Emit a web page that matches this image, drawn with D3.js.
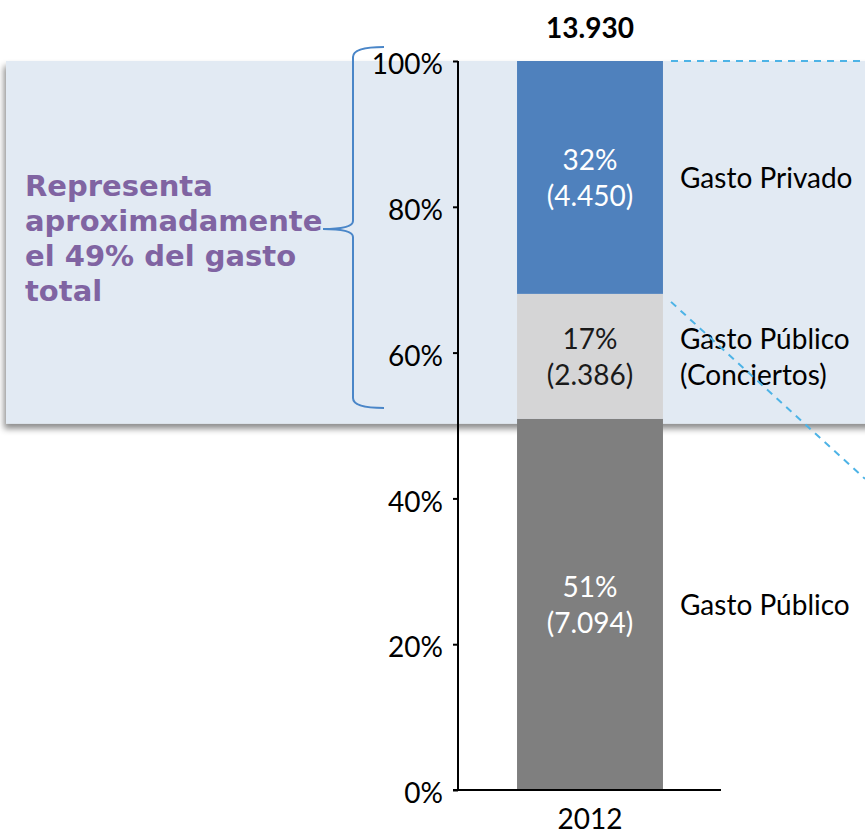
<!DOCTYPE html>
<html lang="es">
<head>
	<meta charset="utf-8">
	<title>Gasto 2012</title>
	<script type="text/javascript" src="https://cdn.jsdelivr.net/npm/d3@7"></script>
	<style>
		body { margin: 0; background: #fff; }
		svg text { font-family: Lato, "Open Sans", sans-serif; }
		.tick-label { font-size: 28px; fill: #000; }
		.seg-label { font-size: 28px; }
		.note { font-family: "DejaVu Sans", Verdana, sans-serif !important; font-weight: bold; font-size: 29px; fill: #8064a2; }
	</style>
</head>
<body>
	<div id="chart"></div>

	<script type="text/javascript">

		var years = ["2012"];
		var series = ["Gasto Público", "Gasto Público (Conciertos)", "Gasto Privado"];
		var labelLines = [["Gasto Público"], ["Gasto Público", "(Conciertos)"], ["Gasto Privado"]];
		var values = [7094, 2386, 4450];
		var colors = ["#7f7f7f", "#d5d5d6", "#4f81bd"];
		var textColors = ["#fff", "#1a1a1a", "#fff"];
		var yTicks = [0, 0.2, 0.4, 0.6, 0.8, 1];
		var note = ["Representa", "aproximadamente", "el 49% del gasto", "total"];

		var w = 865,
		    h = 835;

		var es = d3.formatLocale({decimal: ",", thousands: ".", grouping: [3], currency: ["", "€"]});
		var fmt = es.format(",d");

		var total = d3.sum(values);

		var svg = d3.select("#chart")
			.append("svg")
			.attr("width", w)
			.attr("height", h);

		var y = d3.scaleLinear().domain([0, 1]).range([790, 61]);
		var x = d3.scaleBand().domain(years).range([458, 722]).padding(0.288);

		// stacked shares
		var stack = [];
		var acc = 0;
		values.forEach(function(v, i) {
			stack.push({v: v, y0: acc / total, y1: (acc + v) / total, i: i});
			acc += v;
		});

		// highlight box with shadow
		var defs = svg.append("defs");
		var f = defs.append("filter").attr("id", "shadow")
			.attr("x", "-5%").attr("y", "-5%").attr("width", "110%").attr("height", "115%");
		f.append("feDropShadow").attr("dx", -2).attr("dy", 5)
			.attr("stdDeviation", 3).attr("flood-color", "#000").attr("flood-opacity", 0.45);

		var boxBottom = y(stack[0].y1) + 5;
		svg.append("rect")
			.attr("x", 6)
			.attr("y", y(1))
			.attr("width", w + 20)
			.attr("height", boxBottom - y(1))
			.attr("fill", "#e2eaf3")
			.attr("filter", "url(#shadow)");

		// bars
		var xb = x("2012");
		svg.selectAll(".bar")
			.data(stack)
			.enter()
			.append("rect")
			.attr("class", "bar")
			.attr("x", xb)
			.attr("y", function(d) { return y(d.y1); })
			.attr("width", x.bandwidth())
			.attr("height", function(d) { return y(d.y0) - y(d.y1); })
			.attr("fill", function(d) { return colors[d.i]; });

		// axes
		var yAxis = d3.axisLeft(y).tickValues(yTicks).tickSize(5).tickPadding(10)
			.tickFormat(function(d) { return Math.round(d * 100) + "%"; });
		var gy = svg.append("g").attr("transform", "translate(458,0)").call(yAxis);
		gy.select(".domain").attr("stroke", "#000").attr("stroke-width", 2).attr("d", "M0," + y(1) + "V" + y(0));
		gy.selectAll(".tick line").attr("stroke", "#000").attr("stroke-width", 2);
		gy.selectAll(".tick text").attr("class", "tick-label").attr("font-size", null).attr("font-family", null)
			.attr("dy", "0.45em");

		svg.append("line")
			.attr("x1", 453).attr("x2", 721)
			.attr("y1", y(0)).attr("y2", y(0))
			.attr("stroke", "#000").attr("stroke-width", 2);

		svg.append("text")
			.attr("class", "tick-label")
			.attr("x", x("2012") + x.bandwidth() / 2)
			.attr("y", 829)
			.attr("text-anchor", "middle")
			.text("2012");

		// total on top
		svg.append("text")
			.attr("x", xb + x.bandwidth() / 2)
			.attr("y", 38)
			.attr("text-anchor", "middle")
			.attr("font-size", 28)
			.attr("font-weight", "bold")
			.text(fmt(total));

		// labels in the bars
		stack.forEach(function(d) {
			var cy = (y(d.y0) + y(d.y1)) / 2;
			var t = svg.append("text")
				.attr("class", "seg-label")
				.attr("text-anchor", "middle")
				.attr("fill", textColors[d.i]);
			t.append("tspan").attr("x", xb + x.bandwidth() / 2).attr("y", cy - 7)
				.text(Math.round(d.v / total * 100) + "%");
			t.append("tspan").attr("x", xb + x.bandwidth() / 2).attr("y", cy + 29)
				.text("(" + fmt(d.v) + ")");

			var lines = labelLines[d.i];
			var lt = svg.append("text").attr("class", "seg-label").attr("fill", "#000");
			lines.forEach(function(s, k) {
				lt.append("tspan").attr("x", 680)
					.attr("y", cy + 11 + (k - (lines.length - 1) / 2) * 36)
					.text(s);
			});
		});

		// dashed connectors
		var dash = svg.append("g").attr("stroke", "#4db3e6").attr("stroke-width", 2)
			.attr("stroke-dasharray", "7,6").attr("fill", "none");
		dash.append("line").attr("x1", 671).attr("x2", 865).attr("y1", y(1)).attr("y2", y(1));
		dash.append("line").attr("x1", 671).attr("y1", y(stack[1].y1) + 8).attr("x2", 865).attr("y2", y(stack[1].y1) + 185);

		// brace
		var bx = 353, bTop = 47, bBot = 408, bMid = 229;
		svg.append("path")
			.attr("d", "M384," + bTop + " Q" + bx + "," + bTop + " " + bx + "," + (bTop + 10) +
				" L" + bx + "," + (bMid - 8) + " Q" + bx + "," + bMid + " 323," + bMid +
				" Q" + bx + "," + bMid + " " + bx + "," + (bMid + 8) +
				" L" + bx + "," + (bBot - 10) + " Q" + bx + "," + bBot + " 384," + bBot)
			.attr("fill", "none")
			.attr("stroke", "#4a86c8")
			.attr("stroke-width", 2);

		// note text
		var nt = svg.append("text").attr("class", "note");
		note.forEach(function(s, k) {
			nt.append("tspan").attr("x", 25).attr("y", 196 + k * 35).text(s);
		});

	</script>
</body>
</html>
